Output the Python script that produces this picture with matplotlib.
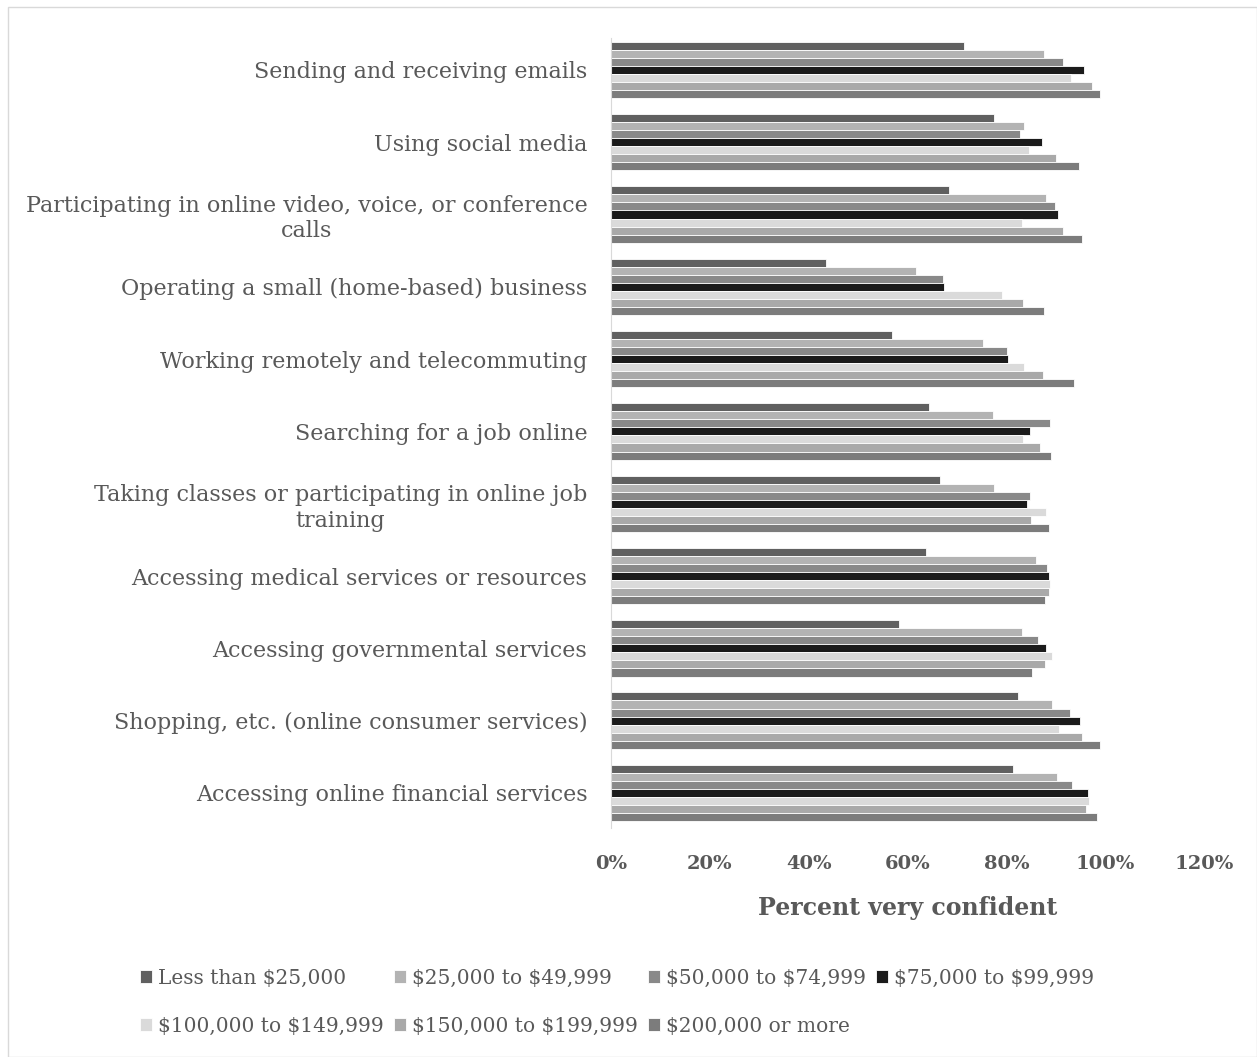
import numpy as np
import matplotlib
matplotlib.use("Agg")
import matplotlib.pyplot as plt
from matplotlib.patches import Rectangle
from matplotlib.ticker import FuncFormatter

# categories, top to bottom
categorias = [
    "Sending and receiving emails",
    "Using social media",
    "Participating in online video, voice, or conference\ncalls",
    "Operating a small (home-based) business",
    "Working remotely and telecommuting",
    "Searching for a job online",
    "Taking classes or participating in online job\ntraining",
    "Accessing medical services or resources",
    "Accessing governmental services",
    "Shopping, etc. (online consumer services)",
    "Accessing online financial services",
]

grupos = [
    "Less than \\$25,000",
    "\\$25,000 to \\$49,999",
    "\\$50,000 to \\$74,999",
    "\\$75,000 to \\$99,999",
    "\\$100,000 to \\$149,999",
    "\\$150,000 to \\$199,999",
    "\\$200,000 or more",
]

# percent very confident, one list per income group (same order as categorias)
menos_25 = [71.4, 77.5, 68.3, 43.6, 56.9, 64.3, 66.6, 63.7, 58.2, 82.3, 81.3]
de_25_50 = [87.5, 83.6, 88.1, 61.7, 75.2, 77.3, 77.5, 86.0, 83.2, 89.2, 90.2]
de_50_75 = [91.4, 82.8, 89.9, 67.1, 80.2, 88.9, 84.7, 88.3, 86.3, 92.8, 93.3]
de_75_100 = [95.7, 87.2, 90.4, 67.3, 80.3, 84.8, 84.1, 88.6, 88.1, 94.8, 96.4]
de_100_150 = [93.1, 84.6, 83.1, 79.2, 83.5, 83.3, 88.1, 88.8, 89.3, 90.6, 96.6]
de_150_200 = [97.3, 90.1, 91.4, 83.3, 87.4, 86.8, 84.9, 88.7, 87.9, 95.3, 96.0]
mas_200 = [99.0, 94.7, 95.3, 87.5, 93.6, 89.1, 88.7, 87.7, 85.1, 99.0, 98.3]

series = [menos_25, de_25_50, de_50_75, de_75_100, de_100_150, de_150_200, mas_200]
colores = ["#606060", "#b3b3b3", "#898989", "#1b1b1b", "#dadada", "#a9a9a9", "#7c7c7c"]

plt.rcParams['font.family'] = ['DejaVu Serif']
gris = "#595959"

fig = plt.figure(figsize=(12.57, 10.57), dpi=100)
ax = fig.add_axes([0.486, 0.217, 0.472, 0.747])

n = len(series)
alto = 0.78 / n
y = np.arange(len(categorias))
barras = []
for i, (vals, col) in enumerate(zip(series, colores)):
    pos = y - 0.39 + alto * (i + 0.5)
    b = ax.barh(pos, np.array(vals) / 100, height=alto, color=col,
                edgecolor="white", linewidth=0.6, label=grupos[i])
    barras.append(b)

ax.set_ylim(len(categorias) - 0.52, -0.44)
ax.set_xlim(0, 1.2)
ax.set_xticks(np.arange(0, 1.21, 0.2))
ax.xaxis.set_major_formatter(FuncFormatter(lambda v, p: f"{v*100:.0f}%"))
ax.set_yticks(y)
ax.set_yticklabels(categorias, fontsize=16, color=gris, multialignment="center")
for t in ax.get_xticklabels():
    t.set_fontsize(14)
    t.set_fontweight("bold")
    t.set_color(gris)
ax.tick_params(axis="both", length=0)
ax.tick_params(axis="y", pad=17)
ax.tick_params(axis="x", pad=20)
for s in ["top", "right", "bottom"]:
    ax.spines[s].set_visible(False)
ax.spines["left"].set_color("#d9d9d9")
ax.set_xlabel("Percent very confident", fontsize=17, fontweight="bold",
              color=gris, labelpad=16)

# legend filled row by row (matplotlib fills columns)
orden = [0, 4, 1, 5, 2, 6, 3]
fig.legend([barras[k] for k in orden], [grupos[k] for k in orden],
           loc="lower left", bbox_to_anchor=(0.097, 0.003), ncol=4,
           frameon=False, fontsize=14.5, labelcolor=gris,
           handlelength=0.6, handleheight=0.6, handletextpad=0.3,
           columnspacing=0.5, labelspacing=1.45)

fig.patches.append(Rectangle((0.006, 0.0), 0.994, 0.993, transform=fig.transFigure,
                             fill=False, edgecolor="#d9d9d9", linewidth=1))

fig.savefig("out.png", dpi=100)
